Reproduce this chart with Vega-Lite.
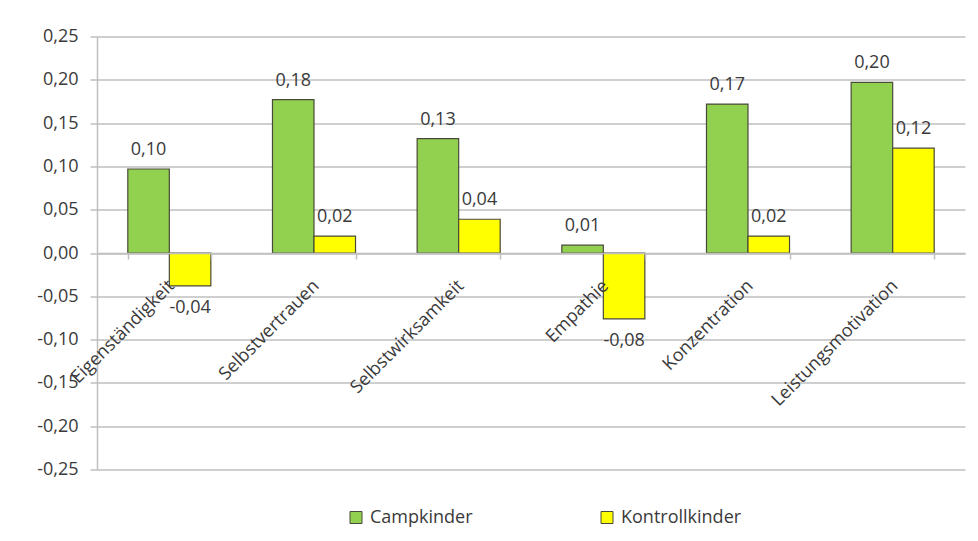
{
  "$schema": "https://vega.github.io/schema/vega-lite/v6.json",
  "width": 868,
  "height": 433,
  "autosize": {"type": "none"},
  "padding": {"left": 97, "top": 36.5, "right": 13, "bottom": 71.5},
  "background": "white",
  "config": {
    "locale": {"number": {"decimal": ",", "thousands": ".", "grouping": [3], "currency": ["", " €"], "minus": "-"}},
    "view": {"stroke": null},
    "font": "Open Sans"
  },
  "data": {"values": [
    {"kategorie": "Eigenständigkeit", "gruppe": "Campkinder", "wert": 0.097},
    {"kategorie": "Eigenständigkeit", "gruppe": "Kontrollkinder", "wert": -0.038},
    {"kategorie": "Selbstvertrauen", "gruppe": "Campkinder", "wert": 0.177},
    {"kategorie": "Selbstvertrauen", "gruppe": "Kontrollkinder", "wert": 0.0196},
    {"kategorie": "Selbstwirksamkeit", "gruppe": "Campkinder", "wert": 0.132},
    {"kategorie": "Selbstwirksamkeit", "gruppe": "Kontrollkinder", "wert": 0.039},
    {"kategorie": "Empathie", "gruppe": "Campkinder", "wert": 0.009},
    {"kategorie": "Empathie", "gruppe": "Kontrollkinder", "wert": -0.076},
    {"kategorie": "Konzentration", "gruppe": "Campkinder", "wert": 0.172},
    {"kategorie": "Konzentration", "gruppe": "Kontrollkinder", "wert": 0.0196},
    {"kategorie": "Leistungsmotivation", "gruppe": "Campkinder", "wert": 0.197},
    {"kategorie": "Leistungsmotivation", "gruppe": "Kontrollkinder", "wert": 0.121}
  ]},
  "encoding": {
    "x": {
      "field": "kategorie", "type": "nominal", "sort": null,
      "scale": {"paddingInner": 0.426, "paddingOuter": 0.213},
      "axis": {
        "title": null, "offset": -216.5, "zindex": 1,
        "domainColor": "#bfbfbf", "domainWidth": 1.5,
        "tickColor": "#bfbfbf", "tickWidth": 1.5, "tickSize": 6, "tickBand": "extent",
        "labelAngle": -45, "labelAlign": "right", "labelBaseline": "middle",
        "labelPadding": 24, "labelOffset": 2, "labelFontSize": 18, "labelColor": "#3a3a3a",
        "labelOverlap": false, "labelLimit": 300, "grid": false
      }
    },
    "xOffset": {"field": "gruppe", "type": "nominal", "sort": ["Campkinder", "Kontrollkinder"], "scale": {"paddingInner": 0, "paddingOuter": 0}},
    "y": {
      "field": "wert", "type": "quantitative",
      "scale": {"domain": [-0.25, 0.25], "nice": false},
      "axis": {
        "title": null,
        "values": [-0.25, -0.2, -0.15, -0.1, -0.05, 0, 0.05, 0.1, 0.15, 0.2, 0.25],
        "format": ".2f",
        "grid": true, "gridColor": "#bfbfbf", "gridWidth": 1.5,
        "domainColor": "#bfbfbf", "domainWidth": 1.5,
        "tickColor": "#bfbfbf", "tickWidth": 1.5, "tickSize": 7,
        "labelPadding": 12, "labelFontSize": 18, "labelColor": "#3a3a3a"
      }
    }
  },
  "layer": [
    {
      "mark": {"type": "bar", "stroke": "#4a4a3a", "strokeWidth": 1.2},
      "encoding": {
        "color": {
          "field": "gruppe", "type": "nominal",
          "scale": {"domain": ["Campkinder", "Kontrollkinder"], "range": ["#92D050", "#FFFF00"]},
          "legend": {
            "title": null, "orient": "none", "legendX": 250, "legendY": 472,
            "direction": "horizontal", "padding": 0,
            "symbolType": "square", "symbolSize": 144,
            "symbolStrokeColor": "#4a4a3a", "symbolStrokeWidth": 1,
            "labelFontSize": 18, "labelColor": "#3a3a3a", "labelOffset": 5,
            "columnPadding": 125
          }
        }
      }
    },
    {
      "transform": [{"filter": "datum.wert >= 0"}],
      "mark": {"type": "text", "baseline": "bottom", "dy": -10, "fontSize": 18, "color": "#3a3a3a"},
      "encoding": {"text": {"field": "wert", "type": "quantitative", "format": ".2f"}}
    },
    {
      "transform": [{"filter": "datum.wert < 0"}],
      "mark": {"type": "text", "baseline": "top", "dy": 13, "fontSize": 18, "color": "#3a3a3a"},
      "encoding": {"text": {"field": "wert", "type": "quantitative", "format": ".2f"}}
    }
  ]
}
